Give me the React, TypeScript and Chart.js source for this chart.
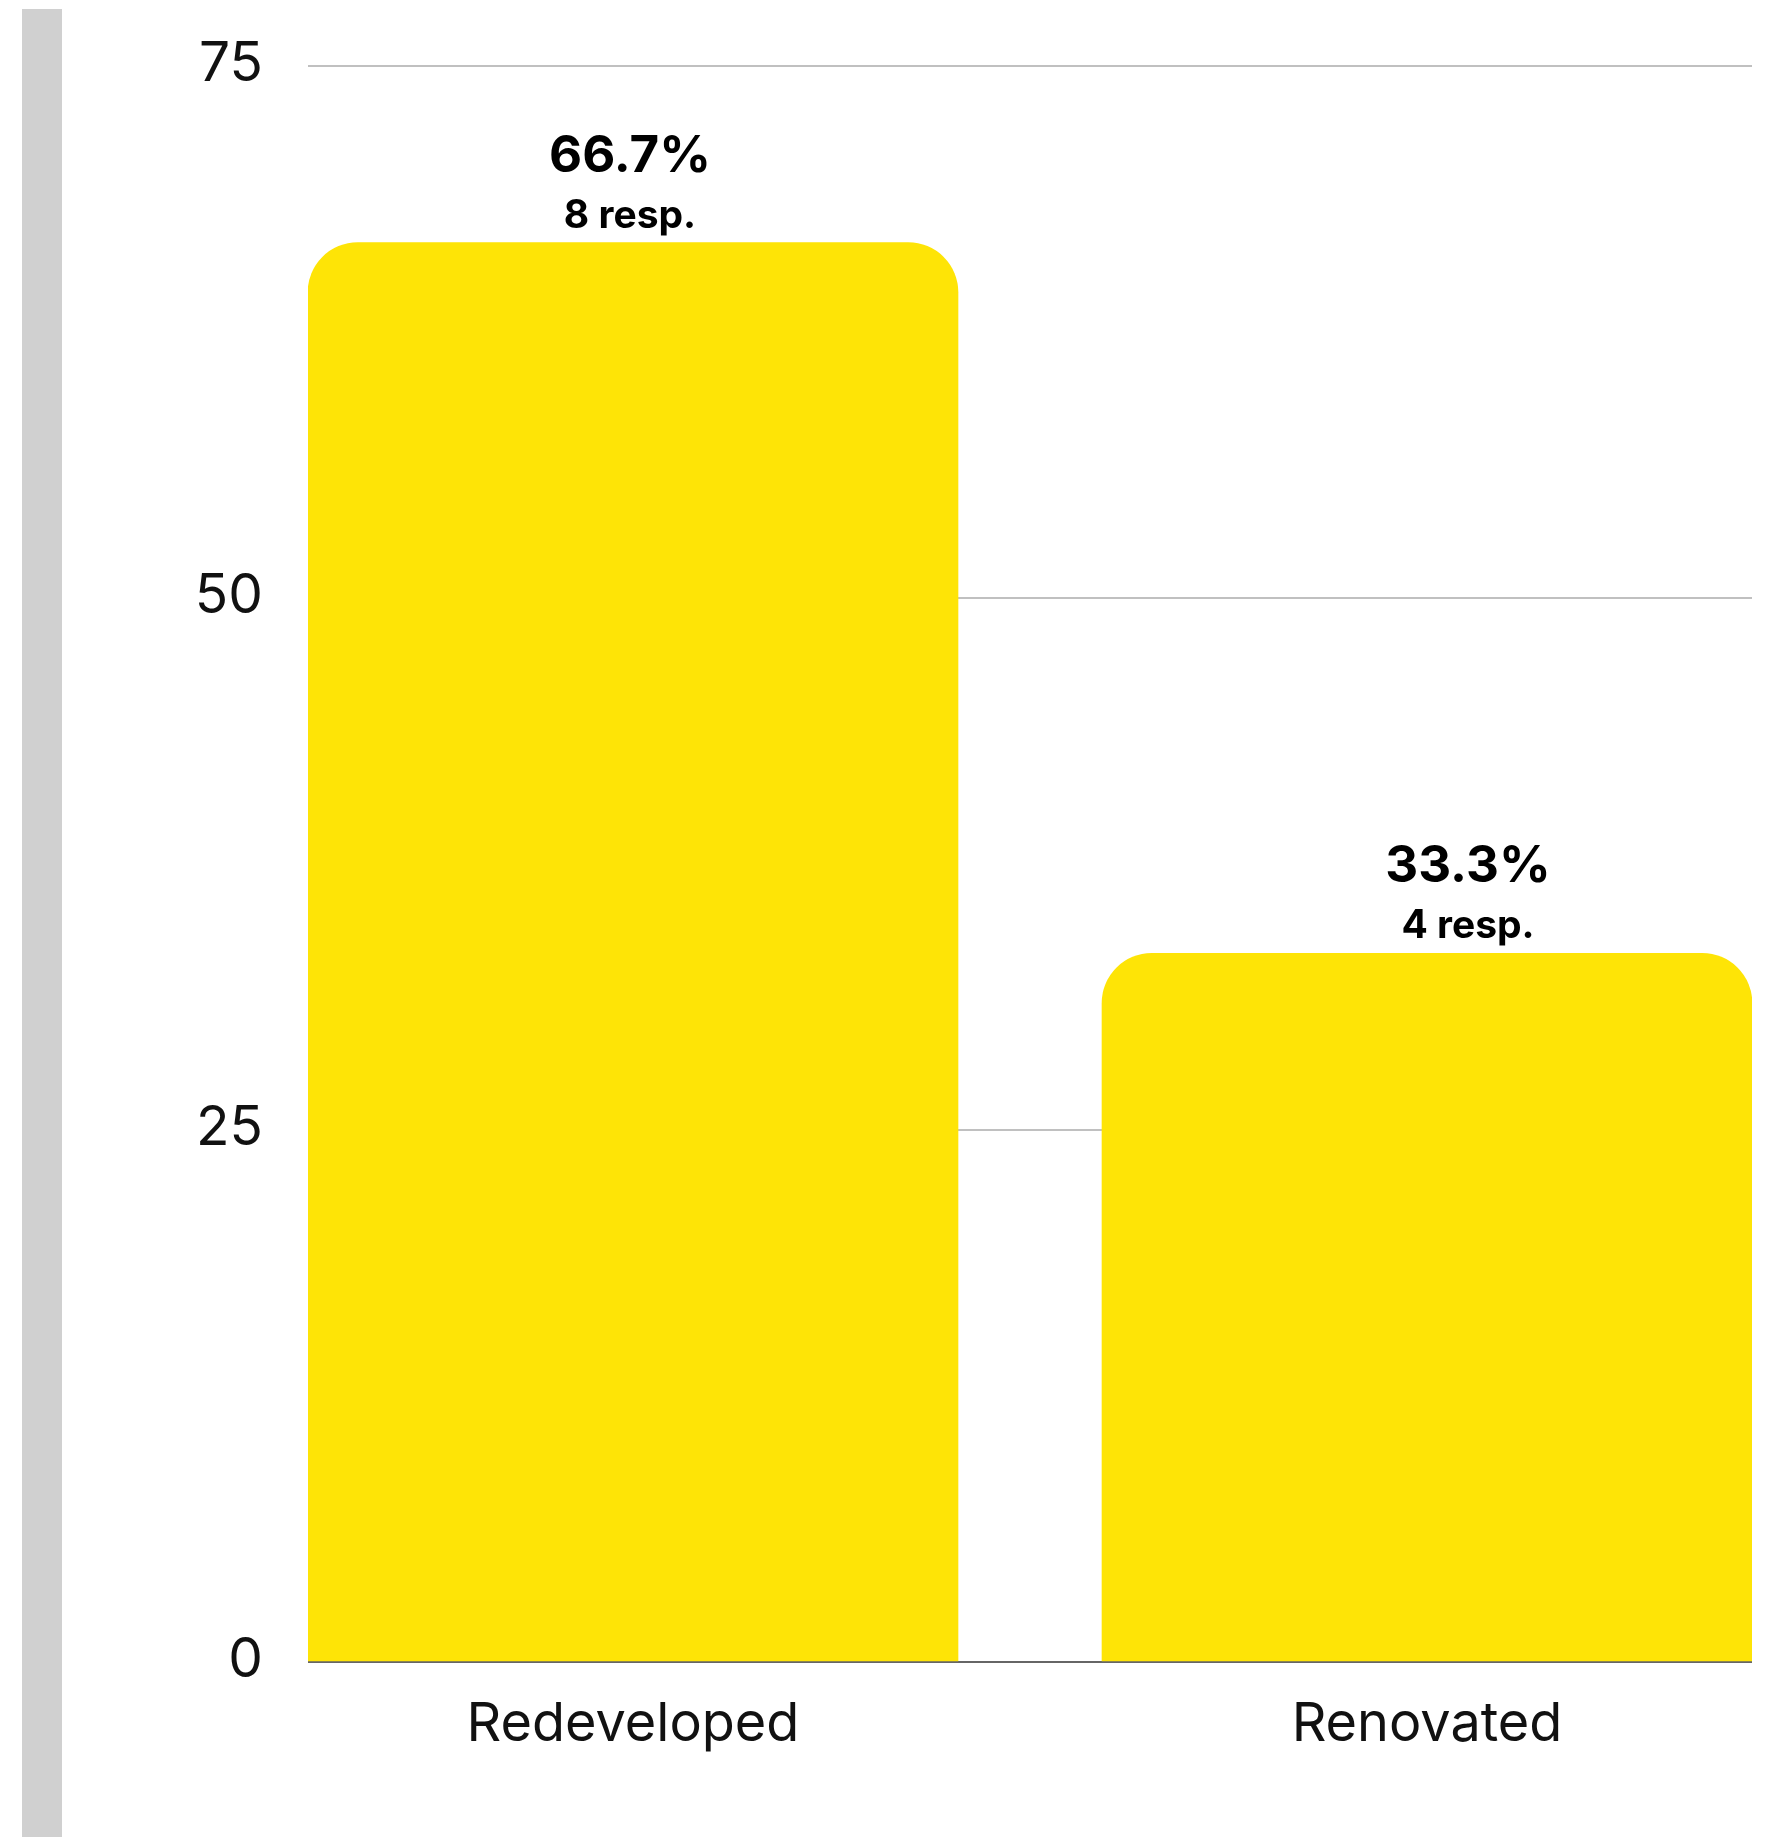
import React, { useEffect, useRef } from "react";
import { Chart, registerables } from "chart.js";

Chart.register(...registerables);

const categories = ["Redeveloped", "Renovated"];
const percentValues = [66.7, 33.3];
const responseCounts = [8, 4];
const yTicks = [0, 25, 50, 75];

const FONT = "Inter, 'Liberation Sans', Arial, sans-serif";

const valueLabelPlugin = {
  id: "valueLabels",
  afterDatasetsDraw(chart: any) {
    const ctx = chart.ctx;
    const meta = chart.getDatasetMeta(0);
    ctx.save();
    ctx.fillStyle = "#000";
    ctx.textAlign = "center";
    ctx.textBaseline = "alphabetic";
    meta.data.forEach((bar: any, i: number) => {
      const dx = -3 + 44 * i;
      const x = bar.x + dx;
      ctx.font = `700 51px ${FONT}`;
      ctx.fillText(percentValues[i].toFixed(1) + "%", x, bar.y - 71);
      ctx.font = `700 39px ${FONT}`;
      ctx.fillText(responseCounts[i] + " resp.", x, bar.y - 15);
    });
    ctx.restore();
  },
};

export default function App() {
  const canvasRef = useRef<HTMLCanvasElement | null>(null);

  useEffect(() => {
    if (!canvasRef.current) return;
    const chart = new Chart(canvasRef.current, {
      type: "bar",
      data: {
        datasets: [
          {
            data: percentValues.map((v, i) => ({ x: i, y: v })),
            backgroundColor: "#FEE406",
            borderWidth: 0,
            borderSkipped: false,
            borderRadius: { topLeft: 50, topRight: 50, bottomLeft: 0, bottomRight: 0 },
            barThickness: 650,
          } as any,
        ],
      },
      options: {
        responsive: false,
        devicePixelRatio: 1,
        animation: false,
        layout: { padding: { top: 66, right: 19, left: 0, bottom: 0 } },
        plugins: { legend: { display: false }, tooltip: { enabled: false } },
        scales: {
          x: {
            type: "linear",
            offset: false,
            min: -0.4093,
            max: 1.4093,
            grid: { display: false, drawTicks: false, offset: false },
            border: { display: false },
            afterBuildTicks: (scale: any) => {
              scale.ticks = categories.map((_, i) => ({ value: i }));
            },
            afterFit: (scale: any) => {
              scale.height = 175;
            },
            ticks: {
              callback: (v: any) => categories[v as number] ?? "",
              font: { family: FONT, size: 54 },
              color: "#111",
              padding: 30,
              maxRotation: 0,
              autoSkip: false,
            },
          },
          y: {
            min: 0,
            max: 75,
            afterBuildTicks: (scale: any) => {
              scale.ticks = yTicks.map((v) => ({ value: v }));
            },
            afterFit: (scale: any) => {
              scale.width = 308;
              scale.paddingTop = 0;
              scale.paddingBottom = 0;
            },
            grid: {
              drawTicks: false,
              color: (c: any) => (c.tick && c.tick.value === 0 ? "#666666" : "#c0c0c0"),
              lineWidth: 2,
            },
            border: { display: false },
            ticks: {
              font: { family: FONT, size: 55 },
              color: "#111",
              padding: 45,
              labelOffset: -2,
            },
          },
        } as any,
      },
      plugins: [valueLabelPlugin],
    });
    return () => chart.destroy();
  }, []);

  return (
    <div
      style={{
        position: "absolute",
        left: 0,
        top: 0,
        width: 1771,
        height: 1837,
        overflow: "hidden",
        background: "#fff",
      }}
    >
      <div
        style={{
          position: "absolute",
          left: 22,
          top: 9,
          width: 40,
          height: 1828,
          background: "#d0d0d0",
        }}
      />
      <canvas
        ref={canvasRef}
        width={1771}
        height={1837}
        style={{ position: "absolute", left: 0, top: 0, width: 1771, height: 1837 }}
      />
    </div>
  );
}
